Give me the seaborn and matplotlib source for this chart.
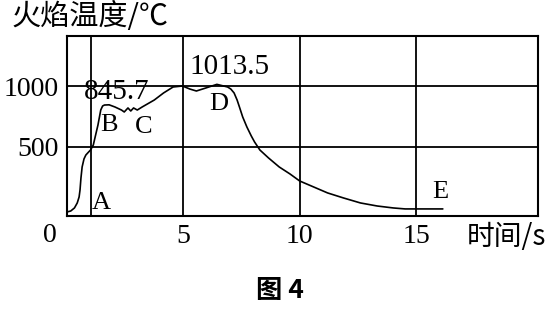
import matplotlib
matplotlib.use("Agg")
import matplotlib.pyplot as plt
import seaborn as sns
import pandas as pd

# ---- data ----
time_s = [0.00, 0.16, 0.32, 0.44, 0.52, 0.56, 0.60, 0.65, 0.73, 0.81, 0.93, 1.01,
          1.13, 1.21, 1.33, 1.45, 1.53, 1.61, 1.81,
          2.06, 2.34, 2.46, 2.62, 2.74, 2.86, 3.02, 3.23, 3.75, 4.15, 4.56, 4.96,
          5.28, 5.56, 5.97, 6.44, 6.90, 7.04, 7.18, 7.31, 7.41, 7.55, 7.73, 7.92,
          8.06, 8.29, 8.66, 9.12, 9.58, 10.00, 10.60, 11.20, 11.88, 12.61, 13.33,
          14.02, 14.53, 15.00, 16.15]
temp_c = [-33, -25, 0, 41, 90, 148, 246, 336, 402, 434, 459, 475,
          516, 582, 680, 803, 836, 844, 845.7,
          828, 803, 787, 820, 795, 820, 803, 828, 885, 943, 992, 1000,
          975, 959, 984, 1013.5, 992, 975, 943, 885, 828, 746, 664, 590,
          541, 475, 410, 336, 279, 221, 172, 123, 82, 41, 16,
          0, -8, -8, -8]

x_ticks = [0, 5, 10, 15]
x_tick_labels = ["0", "5", "10", "15"]
y_ticks = [500, 1000]
y_tick_labels = ["500", "1000"]
a_line_x = 1.05

value_labels = ["845.7", "1013.5"]
value_label_x = [2.14, 6.99]
value_label_y = [951, 1156]

point_names = ["A", "B", "C", "D", "E"]
point_x = [1.45, 1.81, 3.31, 6.53, 16.03]
point_y = [41, 680, 664, 852, 131]

y_title = "火焰温度/℃"
x_title = "时间/s"
caption = "图 4"

# ---- style ----
sns.set_style("white")
plt.rcParams["font.family"] = ["Liberation Serif", "Noto Sans CJK SC", "DejaVu Sans"]
cjk = ["Noto Sans CJK SC", "DejaVu Sans"]

fig = plt.figure(figsize=(5.53, 3.12), dpi=100)
ax = fig.add_axes([67 / 553, 1 - 216 / 312, (538 - 67) / 553, (216 - 36) / 312])

df = pd.DataFrame({"t": time_s, "T": temp_c})
sns.lineplot(data=df, x="t", y="T", sort=False, color="black", linewidth=1.2, ax=ax)

ax.set_xlim(0, 20.24)
ax.set_ylim(-66, 1410)

ax.set_xticks(x_ticks[1:])
ax.set_xticklabels(x_tick_labels[1:])
ax.set_yticks(y_ticks)
ax.set_yticklabels(y_tick_labels)
ax.tick_params(axis="x", length=0, pad=6, labelsize=20, colors="black")
ax.tick_params(axis="y", length=0, pad=6, labelsize=20, colors="black")
ax.set_xlabel("")
ax.set_ylabel("")

ax.grid(True, color="black", linewidth=1.3)
ax.axvline(a_line_x, color="black", linewidth=1.3)
for s in ax.spines.values():
    s.set_color("black")
    s.set_linewidth(1.5)

# the "0" label sits left of the corner
ax.annotate(x_tick_labels[0], xy=(x_ticks[0], 0), xycoords=("data", "axes fraction"),
            xytext=(-17, -20), textcoords="offset pixels", ha="center", va="center",
            fontsize=20, color="black")

for lab, lx, ly in zip(value_labels, value_label_x, value_label_y):
    ax.text(lx, ly, lab, ha="center", va="center", fontsize=21, color="black")
for lab, lx, ly in zip(point_names, point_x, point_y):
    ax.text(lx, ly, lab, ha="center", va="center", fontsize=19, color="black")

fig.text(12 / 553, 1 - 17 / 312, y_title, ha="left", va="center", fontsize=21,
         family=cjk, color="black")
fig.text(467 / 553, 1 - 237 / 312, x_title, ha="left", va="center", fontsize=20,
         family=cjk, color="black")
fig.text(280 / 553, 1 - 291 / 312, caption, ha="center", va="center", fontsize=19,
         family=cjk, fontweight="bold", color="black")

fig.savefig("out.png", dpi=100, facecolor="white")
